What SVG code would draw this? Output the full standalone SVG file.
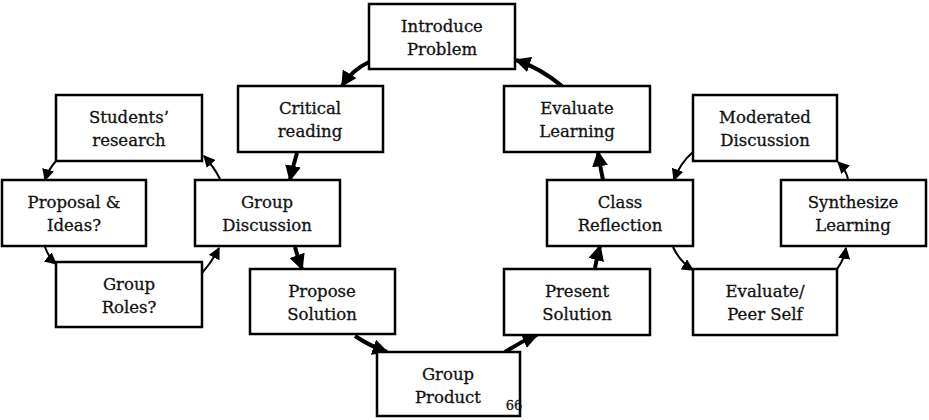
<svg xmlns="http://www.w3.org/2000/svg" width="929" height="420" viewBox="0 0 929 420">
<defs>
<marker id="ah" viewBox="0 0 10 10" refX="9" refY="5" markerWidth="4" markerHeight="4" orient="auto" markerUnits="strokeWidth"><path d="M0,0 L10,5 L0,10 z" fill="#000"/></marker>
<marker id="ahs" viewBox="0 0 10 10" refX="9" refY="5" markerWidth="6" markerHeight="6" orient="auto" markerUnits="strokeWidth"><path d="M0,0 L10,5 L0,10 z" fill="#000"/></marker>
</defs>
<style>
rect{fill:#fff;stroke:#000;stroke-width:2.5}
text{font-family:"DejaVu Serif","Liberation Serif",serif;font-size:16.5px;text-anchor:middle;fill:#111;stroke:#111;stroke-width:0.3}
.m{fill:none;stroke:#000;stroke-width:4;marker-end:url(#ah)}
.s{fill:none;stroke:#000;stroke-width:2;marker-end:url(#ahs)}
</style>
<rect width="929" height="420" style="fill:#fff;stroke:none"/>
<g id="connectors">
<path class="m" d="M369,62 Q352,70 342,86"/>
<path class="m" d="M297,153 Q293,166 290,180"/>
<path class="m" d="M295,247 Q298,258 302,269"/>
<path class="m" d="M355,336 Q370,346 387,352"/>
<path class="m" d="M505,352 Q520,342 537,335"/>
<path class="m" d="M595,268 Q597,257 600,246"/>
<path class="m" d="M603,180 Q600,166 598,152"/>
<path class="m" d="M562,86 Q540,68 516,60"/>
<path class="s" d="M220,179 Q214,167 204,156"/>
<path class="s" d="M56,161 Q48,170 45,180"/>
<path class="s" d="M45,247 Q49,258 56,264"/>
<path class="s" d="M202,273 Q212,262 219,248"/>
<path class="s" d="M693,152 Q680,163 674,180"/>
<path class="s" d="M673,247 Q680,262 693,270"/>
<path class="s" d="M837,269 Q844,260 846,248"/>
<path class="s" d="M848,179 Q846,170 838,162"/>
</g>
<g id="introduce"><rect x="369" y="4" width="146" height="65"/><text x="442" y="32">Introduce</text><text x="442" y="55">Problem</text></g>
<g id="critical"><rect x="238" y="86" width="145" height="66"/><text x="310" y="114">Critical</text><text x="310" y="137">reading</text></g>
<g id="evaluate-learning"><rect x="504" y="86" width="146" height="66"/><text x="577" y="114">Evaluate</text><text x="577" y="137">Learning</text></g>
<g id="students"><rect x="56" y="95" width="146" height="66"/><text x="129" y="123">Students’</text><text x="129" y="146">research</text></g>
<g id="proposal"><rect x="2" y="180" width="144" height="66"/><text x="74" y="208">Proposal &amp;</text><text x="74" y="231">Ideas?</text></g>
<g id="roles"><rect x="56" y="262" width="146" height="65"/><text x="129" y="290">Group</text><text x="129" y="313">Roles?</text></g>
<g id="group-discussion"><rect x="195" y="180" width="145" height="66"/><text x="267" y="208">Group</text><text x="267" y="231">Discussion</text></g>
<g id="propose"><rect x="250" y="269" width="145" height="65"/><text x="322" y="297">Propose</text><text x="322" y="320">Solution</text></g>
<g id="product"><rect x="377" y="352" width="143" height="64"/><text x="448" y="380">Group</text><text x="448" y="403">Product</text><text x="514" y="410" style="font-size:13px">66</text></g>
<g id="present"><rect x="504" y="269" width="146" height="66"/><text x="577" y="297">Present</text><text x="577" y="320">Solution</text></g>
<g id="class"><rect x="547" y="180" width="146" height="66"/><text x="620" y="208">Class</text><text x="620" y="231">Reflection</text></g>
<g id="moderated"><rect x="693" y="95" width="144" height="66"/><text x="765" y="123">Moderated</text><text x="765" y="146">Discussion</text></g>
<g id="synthesize"><rect x="781" y="180" width="145" height="66"/><text x="853" y="208">Synthesize</text><text x="853" y="231">Learning</text></g>
<g id="peer"><rect x="693" y="269" width="144" height="66"/><text x="765" y="297">Evaluate/</text><text x="765" y="320">Peer Self</text></g>
</svg>
